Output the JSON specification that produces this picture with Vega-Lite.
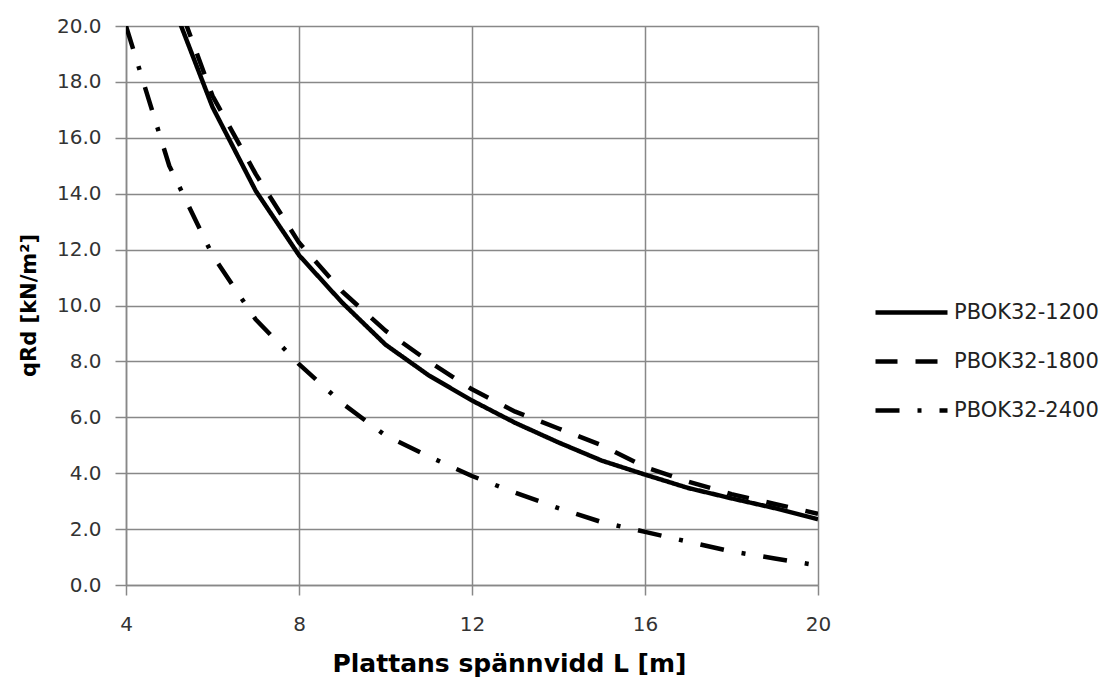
{
  "$schema": "https://vega.github.io/schema/vega-lite/v6.json",
  "width": 692,
  "height": 559,
  "autosize": {"type": "none"},
  "padding": {"left": 126, "top": 26, "right": 286, "bottom": 99},
  "background": "white",
  "config": {"view": {"stroke": null}, "font": "DejaVu Sans"},
  "data": {
    "values": [
      {"series": "PBOK32-1200", "L": 5, "q": 21.1},
      {"series": "PBOK32-1200", "L": 6, "q": 17.1},
      {"series": "PBOK32-1200", "L": 7, "q": 14.1},
      {"series": "PBOK32-1200", "L": 8, "q": 11.8},
      {"series": "PBOK32-1200", "L": 9, "q": 10.1},
      {"series": "PBOK32-1200", "L": 10, "q": 8.6},
      {"series": "PBOK32-1200", "L": 11, "q": 7.5},
      {"series": "PBOK32-1200", "L": 12, "q": 6.6},
      {"series": "PBOK32-1200", "L": 13, "q": 5.8},
      {"series": "PBOK32-1200", "L": 14, "q": 5.1},
      {"series": "PBOK32-1200", "L": 15, "q": 4.45},
      {"series": "PBOK32-1200", "L": 16, "q": 3.95},
      {"series": "PBOK32-1200", "L": 17, "q": 3.47},
      {"series": "PBOK32-1200", "L": 18, "q": 3.1},
      {"series": "PBOK32-1200", "L": 19, "q": 2.75},
      {"series": "PBOK32-1200", "L": 20, "q": 2.35},
      {"series": "PBOK32-1800", "L": 5, "q": 21.7},
      {"series": "PBOK32-1800", "L": 6, "q": 17.5},
      {"series": "PBOK32-1800", "L": 7, "q": 14.7},
      {"series": "PBOK32-1800", "L": 8, "q": 12.25},
      {"series": "PBOK32-1800", "L": 9, "q": 10.5},
      {"series": "PBOK32-1800", "L": 10, "q": 9.1},
      {"series": "PBOK32-1800", "L": 11, "q": 8.0},
      {"series": "PBOK32-1800", "L": 12, "q": 7.0},
      {"series": "PBOK32-1800", "L": 13, "q": 6.2},
      {"series": "PBOK32-1800", "L": 14, "q": 5.6},
      {"series": "PBOK32-1800", "L": 15, "q": 5.0},
      {"series": "PBOK32-1800", "L": 16, "q": 4.22},
      {"series": "PBOK32-1800", "L": 17, "q": 3.7},
      {"series": "PBOK32-1800", "L": 18, "q": 3.25},
      {"series": "PBOK32-1800", "L": 19, "q": 2.9},
      {"series": "PBOK32-1800", "L": 20, "q": 2.55},
      {"series": "PBOK32-2400", "L": 4, "q": 20.0},
      {"series": "PBOK32-2400", "L": 5, "q": 15.0},
      {"series": "PBOK32-2400", "L": 6, "q": 11.8},
      {"series": "PBOK32-2400", "L": 7, "q": 9.5},
      {"series": "PBOK32-2400", "L": 8, "q": 7.9},
      {"series": "PBOK32-2400", "L": 9, "q": 6.5},
      {"series": "PBOK32-2400", "L": 10, "q": 5.35},
      {"series": "PBOK32-2400", "L": 11, "q": 4.6},
      {"series": "PBOK32-2400", "L": 12, "q": 3.9},
      {"series": "PBOK32-2400", "L": 13, "q": 3.3},
      {"series": "PBOK32-2400", "L": 14, "q": 2.75},
      {"series": "PBOK32-2400", "L": 15, "q": 2.25},
      {"series": "PBOK32-2400", "L": 16, "q": 1.9},
      {"series": "PBOK32-2400", "L": 17, "q": 1.55},
      {"series": "PBOK32-2400", "L": 18, "q": 1.2},
      {"series": "PBOK32-2400", "L": 19, "q": 0.95},
      {"series": "PBOK32-2400", "L": 20, "q": 0.7}
    ]
  },
  "mark": {"type": "line", "clip": true, "strokeWidth": 4.5, "color": "black", "strokeCap": "butt", "strokeJoin": "round"},
  "encoding": {
    "x": {
      "field": "L",
      "type": "quantitative",
      "scale": {"domain": [4, 20], "nice": false, "zero": false},
      "axis": {
        "values": [4, 8, 12, 16, 20],
        "title": "Plattans spännvidd L [m]",
        "titleFont": "DejaVu Sans",
        "titleFontWeight": "bold",
        "titleFontSize": 25,
        "titleColor": "#000000",
        "titleX": 383,
        "titleY": 86,
        "titleBaseline": "alphabetic",
        "titleAnchor": "middle",
        "labelFontSize": 20,
        "labelColor": "#333333",
        "labelPadding": 19,
        "labelFlush": false,
        "labelOverlap": false,
        "tickSize": 10,
        "tickColor": "#888888",
        "tickWidth": 1.5,
        "domainColor": "#888888",
        "domainWidth": 1.5,
        "gridColor": "#888888",
        "gridWidth": 1.5,
        "gridOpacity": 1
      }
    },
    "y": {
      "field": "q",
      "type": "quantitative",
      "scale": {"domain": [0, 20], "nice": false},
      "axis": {
        "values": [0, 2, 4, 6, 8, 10, 12, 14, 16, 18, 20],
        "format": ".1f",
        "title": "qRd [kN/m²]",
        "titleFont": "DejaVu Sans",
        "titleFontWeight": "bold",
        "titleFontSize": 21,
        "titleColor": "#000000",
        "titleX": -97,
        "titleY": 279,
        "titleAngle": 270,
        "titleBaseline": "middle",
        "titleAnchor": "middle",
        "labelFontSize": 20,
        "labelColor": "#333333",
        "labelPadding": 14,
        "labelFlush": false,
        "labelOverlap": false,
        "tickSize": 11,
        "tickColor": "#888888",
        "tickWidth": 1.5,
        "domainColor": "#888888",
        "domainWidth": 1.5,
        "gridColor": "#888888",
        "gridWidth": 1.5,
        "gridOpacity": 1
      }
    },
    "strokeDash": {
      "field": "series",
      "type": "nominal",
      "scale": {
        "domain": ["PBOK32-1200", "PBOK32-1800", "PBOK32-2400"],
        "range": [[1, 0], [22, 18], [24, 18, 4, 18]]
      },
      "legend": {
        "title": null,
        "orient": "none",
        "legendX": 747,
        "legendY": 248,
        "symbolType": "stroke",
        "symbolSize": 5184,
        "symbolStrokeWidth": 4.5,
        "symbolStrokeColor": "black",
        "labelFontSize": 21,
        "labelColor": "#222222",
        "labelOffset": 4,
        "rowPadding": -4
      }
    }
  }
}
